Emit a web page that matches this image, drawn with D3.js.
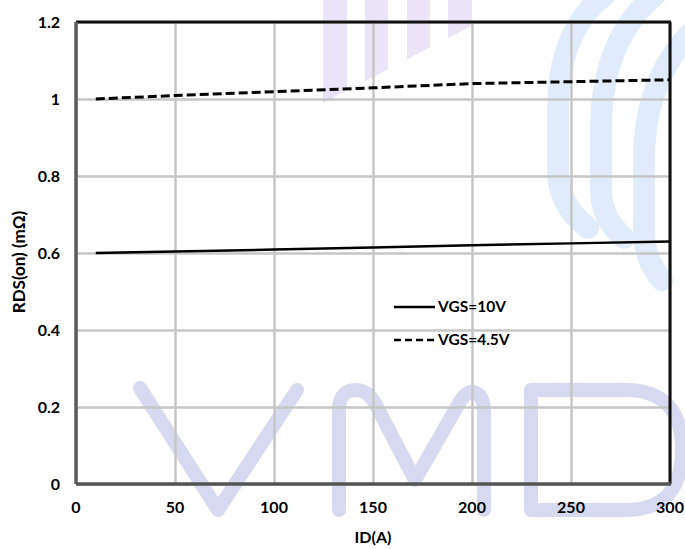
<!DOCTYPE html>
<html>
    <head>
        <style>
            body { margin: 0; background: #fff; }
            svg { display: block; background: #fff; }
            text { font-family: Lato, "Open Sans", sans-serif; font-weight: bold; fill: #000; }
        </style>
    </head>
    <body>
        <div id="chart"></div>

        <script src="https://cdnjs.cloudflare.com/ajax/libs/d3/7.8.5/d3.min.js"></script>

    <script>
        // current (A) and on-resistance (mOhm)
        var idAmps = [10, 50, 100, 150, 200, 250, 300];
        var rdsVgs10 = [0.600, 0.604, 0.609, 0.614, 0.620, 0.625, 0.630];
        var rdsVgs45 = [1.000, 1.009, 1.019, 1.029, 1.040, 1.045, 1.050];
        var seriesNames = ["VGS=10V", "VGS=4.5V"];
        var xTicks = [0, 50, 100, 150, 200, 250, 300];
        var yTicks = [0, 0.2, 0.4, 0.6, 0.8, 1, 1.2];

        (function() {
            var width = 685,
                height = 549;
            var left = 76, right = 670, top = 22, bottom = 484;

            var svg = d3.select("#chart")
                .append("svg")
                .attr("width", width)
                .attr("height", height);

            var x = d3.scaleLinear().domain([0, 300]).range([left, right]);
            var y = d3.scaleLinear().domain([0, 1.2]).range([bottom, top]);

            // faint logo watermark behind the chart
            var wm = svg.append("g").attr("fill", "none").attr("stroke-linecap", "round");
            var purple = "#ebe4f8";
            [[323, 347], [365, 388], [407, 430], [448, 472]].forEach(function(b) {
                var yb = function(px) { return 103 - (px - 323) * 0.52; };
                wm.append("path")
                    .attr("d", "M" + b[0] + ",0L" + b[1] + ",0L" + b[1] + "," + yb(b[1]) + "L" + b[0] + "," + yb(b[0]) + "Z")
                    .attr("fill", purple).attr("stroke", "none");
            });
            var blue = "#e0ecfb";
            wm.append("path").attr("d", "M605,-5 Q558,30 558,110 L558,170 Q558,205 588,228")
                .attr("stroke", blue).attr("stroke-width", 22);
            wm.append("path").attr("d", "M655,-5 Q601,40 601,130 L601,190 Q601,218 624,238")
                .attr("stroke", blue).attr("stroke-width", 22);
            wm.append("path").attr("d", "M705,20 Q644,70 644,160 L644,230 Q644,260 662,280")
                .attr("stroke", blue).attr("stroke-width", 22);

            var lav = "#d6d9ef";
            wm.append("path").attr("d", "M140,388 L218,510 L297,390")
                .attr("stroke", lav).attr("stroke-width", 14).attr("stroke-linejoin", "round");
            wm.append("path").attr("d", "M339,510 L339,410 Q339,390 356,390 Q368,390 376,405 L415,480 L458,405 Q466,390 474,392 Q484,395 484,412 L484,510")
                .attr("stroke", lav).attr("stroke-width", 14).attr("stroke-linejoin", "round");
            wm.append("path").attr("d", "M531,510 L531,390 L625,390 Q682,390 682,450 Q682,510 625,510 Z")
                .attr("stroke", lav).attr("stroke-width", 14).attr("stroke-linejoin", "round");

            // gridlines
            svg.append("g")
                .attr("transform", "translate(0," + bottom + ")")
                .call(d3.axisBottom(x).tickValues(xTicks).tickSize(-(bottom - top)).tickFormat(""))
                .call(function(g) { g.select(".domain").remove(); })
                .selectAll("line").attr("stroke", "#c6c6c6").attr("stroke-width", 2.5);
            svg.append("g")
                .attr("transform", "translate(" + left + ",0)")
                .call(d3.axisLeft(y).tickValues(yTicks).tickSize(-(right - left)).tickFormat(""))
                .call(function(g) { g.select(".domain").remove(); })
                .selectAll("line").attr("stroke", "#c6c6c6").attr("stroke-width", 2.5);

            // frame
            svg.append("line").attr("x1", left).attr("x2", right + 1).attr("y1", top).attr("y2", top)
                .attr("stroke", "#111").attr("stroke-width", 3);
            svg.append("line").attr("x1", right).attr("x2", right).attr("y1", top).attr("y2", bottom)
                .attr("stroke", "#111").attr("stroke-width", 3);
            svg.append("line").attr("x1", left).attr("x2", left).attr("y1", top).attr("y2", bottom)
                .attr("stroke", "#5c5c5c").attr("stroke-width", 3.5);
            svg.append("line").attr("x1", left).attr("x2", right + 1).attr("y1", bottom).attr("y2", bottom)
                .attr("stroke", "#555").attr("stroke-width", 3.5);

            // tick labels
            svg.append("g").selectAll("text")
                .data(xTicks).enter().append("text")
                .attr("x", function(d) { return x(d); })
                .attr("y", 513)
                .attr("text-anchor", "middle")
                .attr("font-size", 16)
                .text(function(d) { return d; });
            svg.append("g").selectAll("text")
                .data(yTicks).enter().append("text")
                .attr("x", 60)
                .attr("y", function(d) { return y(d) + 6; })
                .attr("text-anchor", "end")
                .attr("font-size", 16)
                .text(function(d) { return d; });

            svg.append("text")
                .attr("x", 373).attr("y", 543)
                .attr("text-anchor", "middle").attr("font-size", 16)
                .text("ID(A)");
            svg.append("text")
                .attr("transform", "translate(25,262) rotate(-90)")
                .attr("text-anchor", "middle").attr("font-size", 17)
                .text("RDS(on) (mΩ)");

            // data lines
            var line = d3.line()
                .x(function(d) { return x(d[0]); })
                .y(function(d) { return y(d[1]); });
            svg.append("path")
                .datum(d3.zip(idAmps, rdsVgs10))
                .attr("d", line)
                .attr("fill", "none").attr("stroke", "#000").attr("stroke-width", 2.5);
            svg.append("path")
                .datum(d3.zip(idAmps, rdsVgs45))
                .attr("d", line)
                .attr("fill", "none").attr("stroke", "#000").attr("stroke-width", 3)
                .attr("stroke-dasharray", "9,4");

            // legend
            var legend = svg.append("g");
            [0, 1].forEach(function(i) {
                var ly = 307 + i * 33;
                legend.append("line")
                    .attr("x1", 394).attr("x2", 435).attr("y1", ly).attr("y2", ly)
                    .attr("stroke", "#000").attr("stroke-width", 2.5)
                    .attr("stroke-dasharray", i ? "7,4" : null);
                legend.append("text")
                    .attr("x", 438).attr("y", ly + 5)
                    .attr("font-size", 15.5)
                    .text(seriesNames[i]);
            });
        })();
    </script>
    </body>
</html>
